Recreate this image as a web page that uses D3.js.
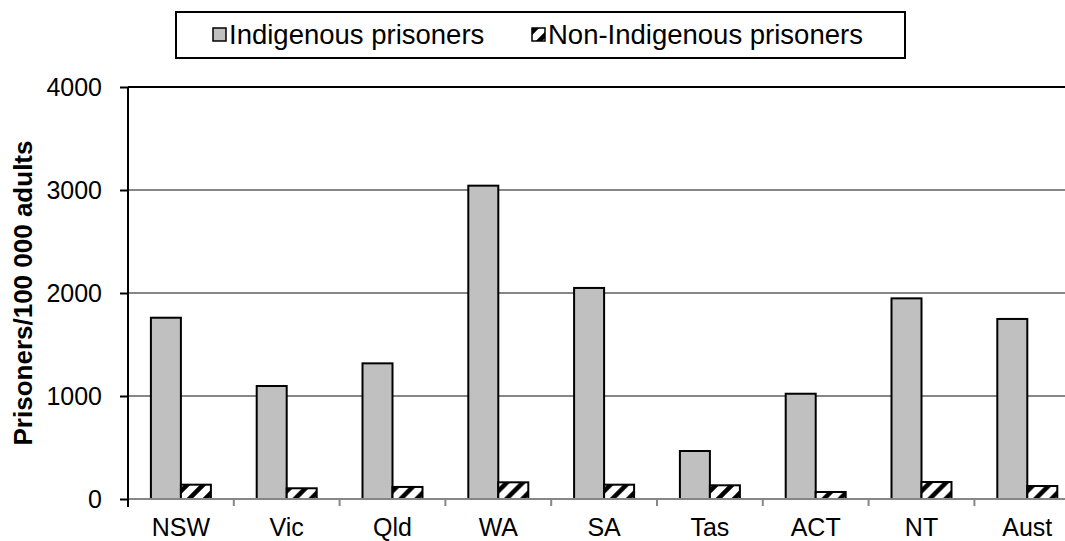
<!DOCTYPE html>
<html>
<head>
<meta charset="utf-8">
<script src="https://cdn.jsdelivr.net/npm/d3@7"></script>
<style>
  body { margin: 0; background: #fff; }
  svg { display: block; font-family: "Liberation Sans", Arial, sans-serif; }
</style>
</head>
<body>
<svg id="chart" width="1065" height="541"></svg>
<script>
// chart data
const states = ['NSW', 'Vic', 'Qld', 'WA', 'SA', 'Tas', 'ACT', 'NT', 'Aust'];
const indigenous = [1760, 1097, 1317, 3042, 2049, 466, 1022, 1948, 1748];
const nonIndigenous = [139, 104, 117, 162, 139, 133, 68, 165, 126];
const seriesNames = ['Indigenous prisoners', 'Non-Indigenous prisoners'];
const yTicks = [0, 1000, 2000, 3000, 4000];

const svg = d3.select('#chart');

// hatch fill for the non-indigenous bars (wide upward diagonal)
const tile = 16;
const defs = svg.append('defs');
defs.append('pattern')
  .attr('id', 'hatch')
  .attr('patternUnits', 'userSpaceOnUse')
  .attr('width', tile)
  .attr('height', tile)
  .call(p => {
    p.append('rect').attr('width', tile).attr('height', tile).attr('fill', '#fff');
    p.append('path')
      .attr('d', `M-4,4 L4,-4 M0,${tile} L${tile},0 M${tile - 4},${tile + 4} L${tile + 4},${tile - 4}`)
      .attr('stroke', '#000')
      .attr('stroke-width', 4.5);
  });

const fills = ['#c0c0c0', 'url(#hatch)'];

// plot area runs past the right edge, like the original
const plotLeft = 128, plotTop = 87, plotBottom = 499;
const step = 105.8;

const x = d3.scaleBand()
  .domain(states)
  .range([plotLeft, plotLeft + step * states.length])
  .padding(0);

const barW = 30;
const x1 = d3.scaleBand()
  .domain(seriesNames)
  .range([0, x.bandwidth()])
  .paddingInner(0)
  .paddingOuter((x.bandwidth() / barW - 2) / 2);

const y = d3.scaleLinear().domain([0, 4000]).range([plotBottom, plotTop]);

// gridlines
svg.append('g')
  .selectAll('line')
  .data(yTicks.filter(d => d > 0))
  .join('line')
  .attr('x1', plotLeft)
  .attr('x2', 1065)
  .attr('y1', d => y(d))
  .attr('y2', d => y(d))
  .attr('stroke', d => d === 4000 ? '#000' : '#868686')
  .attr('stroke-width', 2);

// bars
const rows = states.map((s, i) => ({state: s, values: [indigenous[i], nonIndigenous[i]]}));
const groups = svg.append('g')
  .selectAll('g')
  .data(rows)
  .join('g')
  .attr('transform', d => `translate(${x(d.state)},0)`);

groups.selectAll('rect')
  .data(d => d.values.map((v, k) => ({key: seriesNames[k], k, v})))
  .join('rect')
  .attr('x', d => x1(d.key))
  .attr('width', x1.bandwidth())
  .attr('y', d => y(d.v))
  .attr('height', d => y(0) - y(d.v))
  .attr('fill', d => fills[d.k])
  .attr('stroke', '#000')
  .attr('stroke-width', 2);

// x axis
const xAxis = svg.append('g')
  .attr('transform', `translate(0,${plotBottom})`)
  .call(d3.axisBottom(x).tickSize(0).tickPadding(19));
xAxis.select('.domain').remove();
xAxis.selectAll('text')
  .attr('font-size', 25)
  .attr('font-family', '"Liberation Sans", Arial, sans-serif')
  .attr('fill', '#000');

svg.append('line')
  .attr('x1', plotLeft).attr('x2', 1065)
  .attr('y1', plotBottom).attr('y2', plotBottom)
  .attr('stroke', '#868686').attr('stroke-width', 2);

svg.append('g')
  .selectAll('line')
  .data(states.map(s => x(s)))
  .join('line')
  .attr('x1', d => d).attr('x2', d => d)
  .attr('y1', plotBottom).attr('y2', plotBottom + 7)
  .attr('stroke', '#868686').attr('stroke-width', 2);

// y axis
const yAxis = svg.append('g')
  .attr('transform', `translate(${plotLeft},0)`)
  .call(d3.axisLeft(y).tickValues(yTicks).tickSize(8).tickPadding(18).tickFormat(d3.format('d')));
yAxis.select('.domain').remove();
yAxis.selectAll('.tick line').attr('stroke', '#000').attr('stroke-width', 2);
yAxis.selectAll('text')
  .attr('font-size', 25)
  .attr('font-family', '"Liberation Sans", Arial, sans-serif')
  .attr('fill', '#000');

svg.append('line')
  .attr('x1', plotLeft).attr('x2', plotLeft)
  .attr('y1', plotTop).attr('y2', plotBottom + 8)
  .attr('stroke', '#000').attr('stroke-width', 2);

// y title
svg.append('text')
  .attr('transform', `translate(23,${(plotTop + plotBottom) / 2}) rotate(-90)`)
  .attr('text-anchor', 'middle')
  .attr('dy', '0.36em')
  .attr('font-size', 26)
  .attr('font-weight', 'bold')
  .text('Prisoners/100 000 adults');

// legend
const legend = svg.append('g');
legend.append('rect')
  .attr('x', 176).attr('y', 12)
  .attr('width', 729).attr('height', 46)
  .attr('fill', '#fff').attr('stroke', '#000').attr('stroke-width', 2);

const legendX = [213, 532];
const items = legend.selectAll('g.item')
  .data(seriesNames)
  .join('g')
  .attr('class', 'item')
  .attr('transform', (d, i) => `translate(${legendX[i]},0)`);
items.append('rect')
  .attr('x', 0).attr('y', 28)
  .attr('width', 13).attr('height', 13)
  .attr('fill', (d, i) => fills[i])
  .attr('stroke', '#000').attr('stroke-width', 1.5);
items.append('text')
  .attr('x', 16).attr('y', 44)
  .attr('font-size', 27.5)
  .text(d => d);
</script>
</body>
</html>
